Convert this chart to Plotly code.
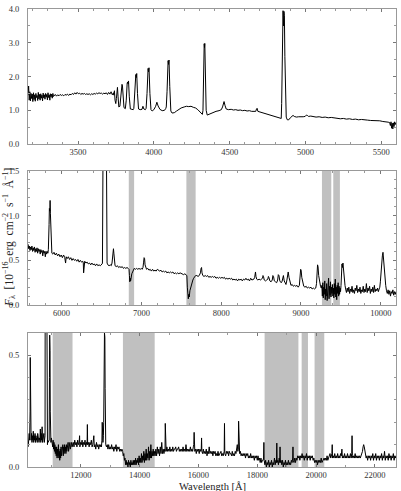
import plotly.graph_objects as go

# ---------------- data (wavelength [Å], flux [1e-16 erg cm-2 s-1 Å-1]) ----------------
uvb_points = [
    (3170,1.45),(3174,1.72),(3178,1.30),(3182,1.55),(3186,1.28),(3190,1.50),(3194,1.35),(3198,1.48),(3202,1.26),(3206,1.52),
    (3210,1.32),(3214,1.46),(3218,1.27),(3222,1.50),(3226,1.38),(3230,1.44),(3234,1.29),(3238,1.53),(3242,1.34),(3246,1.47),
    (3250,1.30),(3254,1.49),(3258,1.36),(3262,1.45),(3266,1.28),(3270,1.51),(3274,1.37),(3278,1.46),(3282,1.33),(3286,1.50),
    (3290,1.39),(3294,1.47),(3298,1.31),(3302,1.52),(3306,1.38),(3310,1.46),(3314,1.30),(3318,1.49),(3322,1.40),(3326,1.48),
    (3330,1.36),(3334,1.50),(3338,1.41),
    (3342,1.44),(3350,1.47),(3358,1.42),(3366,1.46),(3374,1.43),(3382,1.47),(3390,1.44),(3398,1.46),(3406,1.43),(3414,1.47),
    (3422,1.45),(3430,1.48),(3438,1.44),(3446,1.48),(3454,1.46),(3462,1.50),(3470,1.47),(3478,1.52),(3486,1.48),(3494,1.53),
    (3502,1.49),(3510,1.51),(3518,1.47),(3526,1.50),(3534,1.48),(3542,1.50),(3550,1.47),(3558,1.49),(3566,1.47),(3574,1.49),
    (3582,1.46),(3590,1.49),(3598,1.47),(3606,1.50),(3614,1.48),(3622,1.51),(3630,1.49),(3638,1.52),(3646,1.50),(3654,1.51),
    (3662,1.48),(3670,1.51),(3678,1.49),(3686,1.52),(3694,1.47),(3702,1.53),(3710,1.48),(3718,1.55),(3726,1.46),(3734,1.52),
    (3736,1.45),(3740,1.58),(3744,1.30),(3749,1.20),
    (3753,1.35),(3757,1.62),(3760,1.68),(3764,1.40),(3769,1.10),
    (3776,1.12),(3781,1.30),(3786,1.65),(3790,1.77),(3793,1.72),(3797,1.45),(3803,1.08),
    (3812,1.05),(3818,1.30),(3824,1.80),(3827,1.84),(3830,1.78),(3833,1.87),(3838,1.40),(3845,1.04),
    (3855,1.03),(3864,1.02),
    (3868,1.06),(3874,1.45),(3878,2.00),(3881,2.06),(3884,1.97),(3887,2.09),(3892,1.50),(3899,1.04),
    (3910,1.02),(3922,1.03),(3928,1.12),(3934,1.04),(3944,1.02),
    (3949,1.06),(3955,1.50),(3959,2.18),(3962,2.24),(3965,2.14),(3968,2.26),(3974,1.50),(3981,1.02),(3989,0.98),
    (4000,1.02),(4012,1.12),(4020,1.24),(4028,1.13),(4040,1.03),(4055,0.99),(4070,1.00),(4078,1.05),
    (4082,1.10),(4087,1.55),(4091,2.40),(4094,2.47),(4097,2.36),(4100,2.49),(4105,1.70),(4112,0.98),(4120,0.92),
    (4135,0.93),(4150,0.98),(4165,1.03),(4180,1.07),(4200,1.10),(4215,1.12),(4230,1.11),(4245,1.12),(4260,1.09),(4275,1.07),
    (4290,1.02),(4300,0.97),(4312,0.92),(4320,0.88),
    (4324,1.00),(4327,1.60),(4330,2.90),(4332,2.97),(4334,2.86),(4336,2.98),(4340,1.80),(4345,1.00),(4352,0.86),
    (4362,0.88),(4375,0.92),(4390,0.94),(4410,0.97),(4430,0.99),(4445,1.02),(4453,1.10),(4459,1.23),(4463,1.26),(4469,1.15),
    (4477,1.04),(4492,1.02),
    (4510,1.03),(4525,1.01),(4540,1.02),(4555,1.00),(4570,1.01),(4585,0.99),(4600,1.00),(4615,0.98),(4630,0.99),(4645,0.97),
    (4660,0.98),(4672,0.97),(4677,1.04),(4681,1.06),(4686,0.97),(4700,0.95),(4715,0.93),(4730,0.91),(4745,0.89),(4760,0.87),
    (4775,0.85),(4790,0.83),(4805,0.80),(4820,0.77),(4832,0.75),(4840,0.76),
    (4843,1.20),(4847,2.60),(4850,3.80),(4852,3.95),(4855,3.50),(4858,3.93),(4861,3.80),(4864,2.60),(4868,1.20),(4873,0.80),
    (4880,0.72),(4890,0.72),
    (4900,0.78),(4910,0.83),(4918,0.85),(4926,0.82),(4940,0.80),(4955,0.81),(4970,0.80),(4985,0.81),(4998,0.82),(5006,0.86),
    (5012,0.85),(5020,0.82),(5035,0.83),(5050,0.82),(5070,0.80),(5090,0.81),(5110,0.79),(5130,0.80),(5150,0.78),(5170,0.79),
    (5190,0.77),(5210,0.77),(5230,0.75),(5250,0.76),(5270,0.74),(5290,0.75),(5310,0.73),(5330,0.74),(5350,0.72),(5370,0.73),
    (5390,0.71),(5410,0.71),(5430,0.70),(5450,0.70),(5470,0.68),(5490,0.69),(5510,0.67),(5530,0.67),(5545,0.65),(5555,0.64),
    (5560,0.55),(5564,0.66),(5568,0.47),(5572,0.62),(5576,0.45),(5580,0.63),(5584,0.52),(5588,0.66),(5592,0.58),(5597,0.64),
]

vis_points = [
    (5580,0.68),(5588,0.63),(5596,0.66),(5604,0.61),(5612,0.65),(5620,0.62),(5628,0.66),(5636,0.60),(5644,0.64),(5652,0.61),
    (5660,0.65),(5668,0.59),(5676,0.63),(5684,0.60),(5692,0.64),(5700,0.58),(5708,0.63),(5716,0.60),(5724,0.62),(5732,0.57),
    (5740,0.62),(5748,0.59),(5756,0.61),(5764,0.55),(5772,0.61),(5780,0.58),(5788,0.60),(5796,0.54),(5804,0.60),(5812,0.57),
    (5820,0.60),(5828,0.58),(5834,0.62),
    (5838,0.70),(5843,0.90),(5847,1.08),(5850,1.14),(5853,1.05),(5856,1.17),(5860,1.02),(5865,0.80),(5871,0.62),(5878,0.58),
    (5890,0.57),(5905,0.59),(5920,0.56),(5935,0.58),(5950,0.55),(5965,0.57),(5980,0.54),(5995,0.56),(6010,0.53),(6025,0.56),
    (6040,0.53),(6050,0.47),(6058,0.54),(6070,0.52),(6085,0.54),(6100,0.51),(6115,0.53),(6130,0.50),(6145,0.52),(6160,0.50),
    (6175,0.51),(6190,0.49),(6205,0.51),(6220,0.48),(6235,0.50),(6250,0.48),(6265,0.49),(6272,0.47),(6276,0.36),(6280,0.47),
    (6290,0.49),(6305,0.47),(6320,0.48),(6335,0.46),(6350,0.47),(6365,0.45),(6380,0.47),(6395,0.45),(6410,0.46),(6425,0.44),
    (6440,0.46),(6455,0.44),(6470,0.45),(6485,0.44),(6500,0.45),(6508,0.46),
    (6512,0.47),(6517,0.90),(6521,2.00),(6526,3.20),(6555,3.20),(6560,2.00),(6564,0.90),(6570,0.47),
    (6580,0.45),(6595,0.44),(6610,0.45),(6622,0.44),(6632,0.47),(6640,0.55),(6646,0.62),(6650,0.63),(6655,0.58),(6662,0.48),
    (6670,0.44),(6685,0.43),(6700,0.44),(6715,0.42),(6730,0.43),(6745,0.42),(6760,0.43),(6775,0.41),(6790,0.42),(6805,0.41),
    (6820,0.42),(6835,0.41),(6845,0.40),
    (6850,0.33),(6855,0.26),(6860,0.30),(6865,0.27),(6872,0.33),(6880,0.35),(6890,0.37),(6900,0.39),(6910,0.41),
    (6925,0.40),(6940,0.41),(6955,0.40),(6970,0.41),(6985,0.40),(7000,0.41),(7010,0.40),(7020,0.42),(7028,0.48),(7034,0.53),
    (7040,0.52),(7046,0.45),(7054,0.41),(7065,0.40),(7080,0.41),(7095,0.39),(7110,0.40),(7125,0.38),(7140,0.40),(7155,0.38),
    (7170,0.39),(7185,0.38),(7200,0.40),(7215,0.39),(7230,0.38),(7245,0.39),(7260,0.37),(7275,0.38),(7290,0.37),(7305,0.38),
    (7320,0.36),(7335,0.37),(7350,0.36),(7365,0.37),(7380,0.36),(7395,0.37),(7410,0.35),(7425,0.36),(7440,0.35),(7455,0.36),
    (7470,0.35),(7485,0.36),(7500,0.35),(7515,0.35),(7530,0.34),(7545,0.35),(7560,0.34),
    (7570,0.33),(7576,0.20),(7582,0.10),(7588,0.07),(7594,0.12),(7600,0.09),(7608,0.16),(7616,0.19),(7625,0.22),(7635,0.25),
    (7645,0.28),(7655,0.30),(7665,0.32),(7680,0.33),
    (7695,0.33),(7710,0.32),(7725,0.33),(7740,0.36),(7748,0.41),(7754,0.42),(7760,0.36),(7770,0.33),(7785,0.32),(7800,0.33),
    (7815,0.32),(7830,0.33),(7845,0.31),(7860,0.32),(7875,0.31),(7890,0.32),(7905,0.31),(7920,0.32),(7935,0.30),(7950,0.31),
    (7965,0.30),(7980,0.31),(7995,0.30),(8010,0.31),(8025,0.30),(8040,0.31),(8055,0.29),(8070,0.30),(8085,0.29),(8100,0.30),
    (8115,0.29),(8130,0.30),(8145,0.28),(8160,0.29),(8175,0.28),(8190,0.29),(8205,0.27),(8220,0.29),(8235,0.28),(8250,0.29),
    (8265,0.27),(8280,0.29),(8295,0.28),(8310,0.30),(8325,0.28),(8340,0.29),(8355,0.27),(8370,0.30),(8385,0.28),(8400,0.29),
    (8410,0.29),(8420,0.31),(8426,0.36),(8430,0.37),(8436,0.32),(8445,0.29),(8460,0.28),(8475,0.29),(8490,0.28),(8505,0.29),
    (8518,0.30),(8524,0.33),(8530,0.32),(8540,0.28),(8555,0.27),(8570,0.28),(8585,0.29),(8592,0.32),(8598,0.31),(8610,0.27),
    (8625,0.26),(8640,0.28),(8648,0.33),(8656,0.32),(8666,0.27),(8680,0.26),(8695,0.25),(8708,0.28),(8716,0.34),(8724,0.33),
    (8735,0.27),(8750,0.25),(8762,0.26),(8772,0.33),(8780,0.33),(8790,0.27),(8800,0.24),(8812,0.23),(8824,0.28),(8832,0.36),
    (8840,0.37),(8850,0.31),(8862,0.24),(8875,0.22),(8890,0.23),(8905,0.21),(8920,0.22),(8935,0.21),(8950,0.22),(8965,0.20),
    (8980,0.22),(8990,0.33),(8996,0.40),(9002,0.39),(9010,0.31),(9022,0.24),(9035,0.21),(9050,0.20),(9065,0.21),(9080,0.19),
    (9095,0.20),(9110,0.19),(9125,0.20),(9140,0.18),(9155,0.19),(9170,0.18),(9185,0.19),(9195,0.24),(9202,0.38),(9208,0.45),
    (9214,0.43),(9222,0.33),(9232,0.25),(9245,0.21),(9255,0.19),
    (9262,0.22),(9268,0.10),(9274,0.25),(9280,0.08),(9286,0.20),(9292,0.12),(9298,0.27),(9304,0.06),(9310,0.18),(9316,0.10),
    (9322,0.24),(9328,0.05),(9334,0.19),(9340,0.12),(9346,0.30),(9352,0.07),(9358,0.21),(9364,0.11),(9370,0.26),(9376,0.09),
    (9382,0.20),(9388,0.13),(9394,0.23),(9400,0.10),(9406,0.19),(9412,0.08),(9418,0.24),(9424,0.12),(9430,0.29),(9436,0.09),
    (9442,0.20),(9448,0.06),(9454,0.22),(9460,0.13),(9466,0.25),(9472,0.10),(9478,0.21),(9484,0.12),(9490,0.19),(9496,0.15),
    (9502,0.22),(9508,0.35),(9514,0.46),(9520,0.42),(9526,0.47),(9532,0.38),(9538,0.36),(9545,0.28),(9552,0.22),(9560,0.18),
    (9570,0.14),(9580,0.19),(9590,0.15),(9600,0.20),(9610,0.13),(9620,0.18),(9630,0.15),(9640,0.21),(9650,0.14),(9660,0.17),
    (9670,0.13),(9680,0.19),(9690,0.16),(9700,0.22),(9710,0.14),(9720,0.18),(9730,0.15),(9740,0.20),(9750,0.13),(9760,0.17),
    (9770,0.15),(9780,0.21),(9790,0.14),(9800,0.18),(9810,0.15),(9820,0.24),(9830,0.14),(9840,0.19),(9850,0.16),(9860,0.21),
    (9870,0.13),(9880,0.18),(9890,0.15),(9900,0.20),(9910,0.14),(9920,0.22),(9930,0.15),(9940,0.18),(9950,0.16),(9960,0.19),
    (9970,0.15),(9980,0.18),(9988,0.20),
    (9995,0.26),(10003,0.38),(10012,0.48),(10020,0.55),(10028,0.59),(10034,0.50),(10040,0.55),(10046,0.45),(10054,0.32),(10062,0.22),
    (10072,0.16),(10082,0.13),(10092,0.17),(10102,0.12),(10112,0.16),(10122,0.10),(10132,0.15),(10142,0.13),(10152,0.17),(10162,0.11),
    (10172,0.15),(10182,0.12),(10191,0.15),
]

nir_points = [
    (10205,0.09),(10215,0.14),(10225,0.10),(10240,0.15),(10255,0.12),(10265,0.16),(10272,0.25),(10277,0.49),(10282,0.20),(10290,0.14),
    (10305,0.12),(10320,0.15),(10335,0.11),(10350,0.14),(10365,0.12),(10380,0.16),(10395,0.11),(10410,0.14),(10425,0.12),(10440,0.15),
    (10455,0.11),(10470,0.14),(10485,0.12),(10500,0.13),(10515,0.11),(10530,0.15),(10545,0.12),(10560,0.14),(10575,0.11),(10590,0.13),
    (10605,0.12),(10620,0.17),(10635,0.11),(10650,0.15),(10665,0.12),(10680,0.18),(10695,0.11),(10710,0.13),(10725,0.12),(10740,0.15),
    (10755,0.11),(10770,0.14),(10780,0.14),(10784,0.70),(10790,1.50),(10838,1.50),(10843,0.70),(10847,0.14),
    (10855,0.13),(10862,0.10),(10870,0.12),(10880,0.11),(10920,0.12),(10930,0.40),(10938,0.59),(10944,0.45),(10950,0.52),(10958,0.25),
    (10966,0.12),(10980,0.11),(10995,0.13),(11010,0.10),(11025,0.12),(11040,0.09),
    (11055,0.12),(11070,0.08),(11085,0.11),(11100,0.07),(11115,0.10),(11130,0.06),(11145,0.09),(11160,0.05),(11175,0.09),(11190,0.04),
    (11205,0.08),(11220,0.05),(11235,0.10),(11250,0.04),(11265,0.07),(11280,0.03),(11295,0.08),(11310,0.04),(11325,0.09),(11340,0.05),
    (11355,0.08),(11370,0.06),(11385,0.10),(11400,0.05),(11415,0.09),(11430,0.06),(11445,0.10),(11460,0.07),(11475,0.09),(11490,0.06),
    (11505,0.10),(11520,0.07),(11535,0.09),(11550,0.08),(11565,0.11),(11580,0.07),(11595,0.10),(11610,0.08),(11625,0.11),(11640,0.08),
    (11655,0.10),(11670,0.09),(11685,0.11),(11700,0.09),(11715,0.10),
    (11740,0.11),(11765,0.09),(11790,0.12),(11815,0.10),(11840,0.11),(11865,0.09),(11890,0.12),(11915,0.10),(11940,0.11),(11955,0.14),
    (11965,0.09),(11990,0.11),(12015,0.10),(12040,0.12),(12065,0.09),(12090,0.11),(12115,0.10),(12140,0.12),(12165,0.09),(12190,0.11),
    (12210,0.10),(12220,0.19),(12230,0.10),(12255,0.11),(12280,0.09),(12305,0.11),(12330,0.10),(12355,0.12),(12380,0.09),(12405,0.10),
    (12430,0.12),(12440,0.14),(12455,0.09),(12480,0.10),(12505,0.08),(12530,0.11),(12555,0.09),(12580,0.10),(12605,0.08),(12630,0.10),
    (12655,0.09),(12680,0.10),(12700,0.09),(12715,0.12),(12725,0.20),(12735,0.16),(12750,0.11),(12765,0.14),
    (12775,0.20),(12785,0.40),(12795,0.58),(12802,0.60),(12808,0.52),(12815,0.58),(12824,0.35),(12834,0.15),(12845,0.10),
    (12870,0.09),(12895,0.10),(12920,0.08),(12945,0.10),(12970,0.08),(12995,0.09),(13020,0.08),(13045,0.10),(13070,0.08),(13095,0.09),
    (13120,0.07),(13145,0.09),(13170,0.08),(13195,0.10),(13220,0.07),(13245,0.09),(13270,0.08),(13295,0.09),(13320,0.07),(13345,0.08),
    (13370,0.07),(13395,0.08),
    (13420,0.07),(13440,0.05),(13460,0.06),(13480,0.03),(13500,0.04),(13520,0.01),(13540,0.03),(13560,0.01),(13580,0.02),(13600,0.00),
    (13620,0.03),(13640,0.01),(13660,0.02),(13680,0.00),(13700,0.03),(13720,0.01),(13740,0.02),(13760,0.01),(13780,0.03),(13800,0.01),
    (13820,0.03),(13840,0.01),(13860,0.04),(13880,0.01),(13900,0.03),(13920,0.02),(13940,0.04),(13960,0.01),(13980,0.05),(14000,0.02),
    (14020,0.04),(14040,0.02),(14060,0.06),(14080,0.02),(14100,0.05),(14120,0.03),(14140,0.07),(14160,0.02),(14180,0.06),(14200,0.03),
    (14220,0.08),(14240,0.03),(14260,0.06),(14280,0.04),(14300,0.09),(14320,0.03),(14340,0.07),(14360,0.04),(14380,0.10),(14400,0.04),
    (14420,0.07),(14440,0.05),(14460,0.08),(14480,0.05),(14500,0.07),
    (14525,0.05),(14550,0.08),(14575,0.05),(14600,0.09),(14625,0.06),(14650,0.08),(14675,0.05),(14700,0.09),(14725,0.06),(14750,0.11),
    (14775,0.06),(14800,0.08),(14825,0.06),(14850,0.08),(14862,0.07),(14870,0.195),(14878,0.07),(14900,0.07),(14925,0.09),(14950,0.07),
    (14975,0.08),(15000,0.07),(15025,0.09),(15050,0.07),(15075,0.08),(15100,0.07),(15125,0.09),(15150,0.07),(15175,0.08),(15200,0.08),
    (15225,0.09),(15250,0.07),(15275,0.08),(15300,0.08),(15325,0.09),(15350,0.07),(15375,0.08),(15400,0.07),(15425,0.08),(15450,0.07),
    (15475,0.09),(15500,0.07),(15525,0.08),(15550,0.07),(15575,0.10),(15600,0.07),(15625,0.08),(15650,0.07),(15675,0.08),(15700,0.07),
    (15725,0.09),(15750,0.07),(15775,0.08),(15800,0.07),(15825,0.09),(15840,0.10),(15852,0.155),(15862,0.09),(15875,0.07),(15900,0.08),
    (15925,0.06),(15950,0.08),(15975,0.07),(16000,0.08),(16025,0.06),(16050,0.08),(16075,0.07),(16095,0.08),(16105,0.13),(16115,0.07),
    (16140,0.06),(16165,0.08),(16190,0.06),(16215,0.07),(16240,0.06),(16265,0.08),(16290,0.05),(16315,0.07),(16340,0.06),(16365,0.09),
    (16390,0.06),(16415,0.07),(16440,0.06),(16465,0.07),(16490,0.05),(16515,0.07),(16540,0.06),(16565,0.07),(16590,0.05),(16615,0.06),
    (16640,0.05),(16665,0.07),(16690,0.05),(16715,0.06),(16740,0.06),(16765,0.07),(16790,0.05),(16815,0.06),(16840,0.05),(16860,0.06),
    (16875,0.07),(16885,0.195),(16895,0.06),(16925,0.05),(16950,0.07),(16975,0.06),
    (17000,0.07),(17025,0.05),(17050,0.07),(17075,0.06),(17100,0.06),(17125,0.05),(17150,0.07),(17175,0.05),(17200,0.06),(17225,0.05),
    (17250,0.07),(17275,0.06),(17300,0.08),(17320,0.10),(17340,0.07),(17355,0.08),(17365,0.205),(17375,0.07),(17400,0.06),(17425,0.07),
    (17450,0.05),(17475,0.06),(17500,0.05),(17525,0.06),(17550,0.05),(17575,0.06),(17600,0.04),(17625,0.06),(17650,0.05),(17675,0.06),
    (17700,0.04),(17725,0.05),(17750,0.04),(17775,0.06),(17800,0.04),(17825,0.05),(17850,0.04),(17875,0.05),(17900,0.03),(17925,0.05),
    (17950,0.04),(17975,0.05),(18000,0.03),(18025,0.05),(18050,0.03),(18075,0.04),(18100,0.02),(18125,0.04),(18150,0.02),(18175,0.03),
    (18200,0.03),(18215,0.04),(18225,0.11),(18235,0.03),(18260,0.01),(18285,0.03),(18310,0.00),(18335,0.02),(18360,0.01),(18385,0.03),
    (18410,0.00),(18435,0.02),(18460,0.01),(18485,0.03),(18510,0.00),(18535,0.02),(18560,0.01),(18585,0.04),(18610,0.01),(18635,0.03),
    (18655,0.02),(18665,0.107),(18675,0.02),(18700,0.03),(18720,0.01),(18745,0.04),(18765,0.02),(18775,0.09),(18785,0.02),(18810,0.03),
    (18835,0.01),(18860,0.03),(18885,0.00),(18910,0.02),(18935,0.01),(18960,0.03),(18985,0.00),(19010,0.02),(19035,0.01),(19060,0.03),
    (19085,0.01),(19110,0.02),(19135,0.01),(19160,0.03),(19185,0.02),(19205,0.04),(19215,0.09),(19225,0.03),(19250,0.02),(19275,0.04),
    (19300,0.02),(19325,0.04),(19350,0.03),(19375,0.05),
    (19400,0.04),(19425,0.05),(19450,0.03),(19475,0.05),(19500,0.04),(19525,0.06),(19550,0.04),(19575,0.05),(19600,0.03),(19625,0.05),
    (19650,0.04),(19675,0.06),(19700,0.03),(19725,0.05),(19750,0.04),(19775,0.05),(19800,0.03),(19825,0.05),(19850,0.04),(19875,0.05),
    (19900,0.03),(19925,0.04),(19950,0.02),(19975,0.03),(20000,0.02),(20025,0.03),(20050,0.01),(20075,0.03),(20100,0.02),(20125,0.03),
    (20150,0.02),(20175,0.04),(20200,0.02),(20225,0.03),(20250,0.03),(20275,0.04),(20300,0.03),
    (20325,0.04),(20350,0.03),(20375,0.05),(20400,0.03),(20425,0.04),(20450,0.04),(20475,0.06),(20500,0.04),(20525,0.05),(20540,0.06),
    (20550,0.10),(20560,0.04),(20585,0.05),(20610,0.04),(20635,0.06),(20660,0.04),(20685,0.05),(20710,0.04),(20735,0.06),(20760,0.04),
    (20785,0.05),(20810,0.04),(20835,0.06),(20860,0.05),(20880,0.08),(20895,0.04),(20920,0.05),(20945,0.04),(20970,0.06),(20995,0.04),
    (21020,0.05),(21045,0.04),(21070,0.06),(21095,0.04),(21120,0.05),(21145,0.04),(21170,0.06),(21195,0.04),(21215,0.06),(21225,0.14),
    (21235,0.05),(21255,0.04),(21280,0.05),(21305,0.04),(21330,0.06),(21355,0.04),(21380,0.05),(21405,0.04),(21430,0.05),(21455,0.04),
    (21480,0.05),(21505,0.04),(21530,0.05),(21555,0.06),(21580,0.07),(21600,0.09),(21620,0.10),(21640,0.09),(21660,0.07),(21680,0.05),
    (21705,0.04),(21730,0.05),(21755,0.03),(21780,0.05),(21805,0.04),(21830,0.05),(21855,0.03),(21880,0.05),(21905,0.04),(21930,0.06),
    (21955,0.03),(21980,0.05),(22005,0.04),(22030,0.06),(22055,0.03),(22080,0.05),(22105,0.04),(22130,0.05),(22155,0.03),(22180,0.05),
    (22205,0.04),(22230,0.06),(22255,0.03),(22280,0.05),(22305,0.04),(22330,0.07),(22355,0.03),(22380,0.05),(22405,0.04),(22430,0.05),
    (22455,0.03),(22480,0.06),(22505,0.04),(22530,0.05),(22555,0.03),(22580,0.05),(22605,0.04),(22630,0.06),(22655,0.03),(22680,0.05),
    (22705,0.04),(22720,0.05),
]

# telluric regions (shaded)
vis_bands = [(6842, 6909), (7564, 7680), (9263, 9380), (9405, 9488)]
nir_bands = [(11040, 11715), (13430, 14510), (18250, 19400), (19510, 19725), (19950, 20280)]

# axis ranges and ticks
uvb_xrange, vis_xrange, nir_xrange = [3170, 5597], [5579, 10191], [10200, 22720]
uvb_yrange, vis_yrange, nir_yrange = [0, 4.0], [0, 1.5], [0, 0.6]
uvb_xtick = (3500, 500)
vis_xtick = (6000, 1000)
nir_xtick = (12000, 2000)
uvb_ytick = (0.0, 1.0)
vis_ytick = (0.0, 0.5)
nir_ytick = (0.0, 0.5)

# ---------------- figure ----------------
FONT = "Liberation Serif"
W, H = 401, 491
ml, mr, mt, mb = 28, 4, 6, 24
pw = W - ml - mr
ph = H - mt - mb


def dom(top_px, bot_px):
    return [(H - mb - bot_px) / ph, (H - mb - top_px) / ph]


domains = [dom(6, 142), dom(169, 304), dom(332, 467)]

fig = go.Figure()
panels = [
    (uvb_points, "x", "y"),
    (vis_points, "x2", "y2"),
    (nir_points, "x3", "y3"),
]
for pts, xa, ya in panels:
    fig.add_trace(go.Scatter(
        x=[p[0] for p in pts], y=[p[1] for p in pts], mode="lines",
        line=dict(color="black", width=1.0), xaxis=xa, yaxis=ya,
        hoverinfo="skip", showlegend=False))

shapes = []
for bands, xr, yr in [(vis_bands, "x2", "y2 domain"), (nir_bands, "x3", "y3 domain")]:
    for a, b in bands:
        shapes.append(dict(type="rect", xref=xr, yref=yr, x0=a, x1=b, y0=0, y1=1,
                           fillcolor="#c0c0c0", line=dict(width=0), layer="below"))

tickfont = dict(family=FONT, size=8.5, color="#333333")


def common(minor_dtick):
    return dict(ticks="inside", ticklen=3, tickcolor="#777777",
                minor=dict(ticks="inside", ticklen=2, dtick=minor_dtick, tickcolor="#999999"),
                showline=True, linecolor="#999999", linewidth=1, mirror="allticks",
                showgrid=False, zeroline=False, tickfont=tickfont)


def xax(rng, tk, anchor, minor_dtick):
    d = dict(range=rng, tickmode="linear", tick0=tk[0], dtick=tk[1], tickformat="d",
             anchor=anchor, domain=[0, 1])
    d.update(common(minor_dtick))
    return d


def yax(rng, tk, anchor, dm, minor_dtick):
    d = dict(range=rng, tickmode="linear", tick0=tk[0], dtick=tk[1], tickformat=".1f",
             anchor=anchor, domain=dm, ticklabelstandoff=6)
    d.update(common(minor_dtick))
    return d


sp = "&nbsp;&nbsp;"
ytitle = ("<i>F</i><sub>λ</sub>" + sp + "[10<sup>−16</sup>" + sp + "erg" + sp + "cm<sup>−2</sup>" + sp
          + "s<sup>−1</sup>" + sp + "Å<sup>−1</sup>]")

fig.update_layout(
    width=W, height=H, margin=dict(l=ml, r=mr, t=mt, b=mb),
    paper_bgcolor="white", plot_bgcolor="white",
    font=dict(family=FONT, color="#333333"),
    xaxis=xax(uvb_xrange, uvb_xtick, "y", 100),
    xaxis2=xax(vis_xrange, vis_xtick, "y2", 200),
    xaxis3=xax(nir_xrange, nir_xtick, "y3", 1000),
    yaxis=yax(uvb_yrange, uvb_ytick, "x", domains[0], 0.5),
    yaxis2=yax(vis_yrange, vis_ytick, "x2", domains[1], 0.1),
    yaxis3=yax(nir_yrange, nir_ytick, "x3", domains[2], 0.1),
    shapes=shapes,
    annotations=[
        dict(text=ytitle, xref="paper", yref="paper", x=(0 - ml) / pw, y=sum(domains[1]) / 2,
             textangle=-90, showarrow=False, xanchor="left", yanchor="middle", borderpad=0,
             font=dict(family=FONT, size=11.5, color="#222222")),
        dict(text="Wavelength [Å]", xref="paper", yref="paper",
             x=0.5, y=-(487 - (H - mb)) / ph, showarrow=False, xanchor="center", yanchor="middle",
             font=dict(family=FONT, size=10.5, color="#222222")),
    ],
)

fig.write_html("out.html")
